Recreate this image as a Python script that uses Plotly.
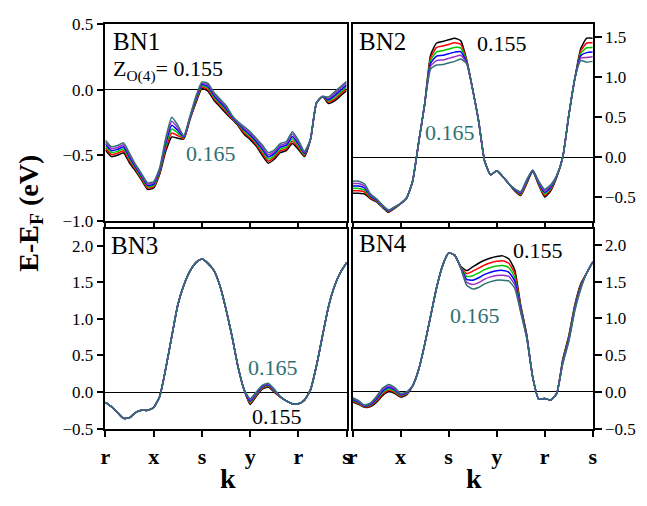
import plotly.graph_objects as go

# ---------------- data ----------------
k_path = [0.0, 0.125, 0.25, 0.375, 0.5, 0.625, 0.75, 0.875, 1.0, 1.125, 1.25, 1.375, 1.5,
          1.625, 1.75, 1.875, 2.0, 2.125, 2.25, 2.375, 2.5, 2.625, 2.75, 2.875, 3.0, 3.125,
          3.25, 3.375, 3.5, 3.625, 3.75, 3.875, 4.0, 4.125, 4.25, 4.375, 4.5, 4.625, 4.75,
          4.875, 5.0]
k_tick_pos = [0, 1, 2, 3, 4, 5]
k_tick_text = ["r", "x", "s", "y", "r", "s"]
z_values = ["0.155", "0.157", "0.159", "0.161", "0.163", "0.165"]

bn1_z155 = [-0.46, -0.51, -0.50, -0.48, -0.56, -0.62, -0.69, -0.76, -0.75, -0.645, -0.47, -0.36, -0.37, -0.375, -0.23, -0.10, 0.01, -0.01, -0.08, -0.13, -0.18, -0.225, -0.275, -0.34, -0.38, -0.43, -0.50, -0.56, -0.53, -0.48, -0.465, -0.41, -0.455, -0.51, -0.38, -0.10, -0.05, -0.105, -0.085, -0.045, -0.005]
bn1_z157 = [-0.445, -0.495, -0.485, -0.465, -0.545, -0.61, -0.68, -0.75, -0.74, -0.635, -0.45, -0.33, -0.35, -0.37, -0.225, -0.09, 0.02, 0.002, -0.068, -0.118, -0.168, -0.219, -0.269, -0.328, -0.368, -0.418, -0.484, -0.544, -0.516, -0.466, -0.451, -0.392, -0.441, -0.502, -0.38, -0.10, -0.05, -0.095, -0.071, -0.031, 0.009]
bn1_z159 = [-0.43, -0.48, -0.47, -0.45, -0.53, -0.60, -0.67, -0.74, -0.73, -0.625, -0.43, -0.30, -0.33, -0.365, -0.22, -0.08, 0.03, 0.014, -0.056, -0.106, -0.156, -0.213, -0.263, -0.316, -0.356, -0.406, -0.468, -0.528, -0.502, -0.452, -0.437, -0.374, -0.427, -0.494, -0.38, -0.10, -0.05, -0.085, -0.057, -0.017, 0.023]
bn1_z161 = [-0.415, -0.465, -0.455, -0.435, -0.515, -0.59, -0.66, -0.73, -0.72, -0.615, -0.41, -0.27, -0.31, -0.36, -0.215, -0.07, 0.04, 0.026, -0.044, -0.094, -0.144, -0.207, -0.257, -0.304, -0.344, -0.394, -0.452, -0.512, -0.488, -0.438, -0.423, -0.356, -0.413, -0.486, -0.38, -0.10, -0.05, -0.075, -0.043, -0.003, 0.037]
bn1_z163 = [-0.40, -0.45, -0.44, -0.42, -0.50, -0.58, -0.65, -0.72, -0.71, -0.605, -0.39, -0.24, -0.29, -0.355, -0.21, -0.06, 0.05, 0.038, -0.032, -0.082, -0.132, -0.201, -0.251, -0.292, -0.332, -0.382, -0.436, -0.496, -0.474, -0.424, -0.409, -0.338, -0.399, -0.478, -0.38, -0.10, -0.05, -0.065, -0.029, 0.011, 0.051]
bn1_z165 = [-0.385, -0.435, -0.425, -0.405, -0.485, -0.57, -0.64, -0.71, -0.70, -0.595, -0.37, -0.21, -0.27, -0.35, -0.205, -0.05, 0.06, 0.05, -0.02, -0.07, -0.12, -0.195, -0.245, -0.28, -0.32, -0.37, -0.42, -0.48, -0.46, -0.41, -0.395, -0.32, -0.385, -0.47, -0.38, -0.10, -0.05, -0.055, -0.015, 0.025, 0.065]

bn2_z155 = [-0.45, -0.45, -0.46, -0.52, -0.56, -0.63, -0.69, -0.64, -0.58, -0.51, -0.30, 0.18, 0.66, 1.28, 1.43, 1.45, 1.47, 1.49, 1.46, 1.22, 0.85, 0.45, -0.05, -0.22, -0.17, -0.24, -0.33, -0.42, -0.48, -0.33, -0.18, -0.35, -0.50, -0.42, -0.25, 0.0, 0.52, 0.98, 1.36, 1.49, 1.49]
bn2_z157 = [-0.42, -0.42, -0.435, -0.508, -0.552, -0.624, -0.684, -0.636, -0.58, -0.51, -0.30, 0.18, 0.66, 1.245, 1.375, 1.392, 1.412, 1.432, 1.414, 1.21, 0.85, 0.45, -0.05, -0.22, -0.17, -0.24, -0.33, -0.415, -0.47, -0.32, -0.176, -0.34, -0.48, -0.405, -0.245, 0.0, 0.52, 0.98, 1.33, 1.43, 1.432]
bn2_z159 = [-0.39, -0.39, -0.41, -0.496, -0.544, -0.618, -0.678, -0.632, -0.58, -0.51, -0.30, 0.18, 0.66, 1.21, 1.32, 1.334, 1.354, 1.374, 1.368, 1.20, 0.85, 0.45, -0.05, -0.22, -0.17, -0.24, -0.33, -0.41, -0.46, -0.31, -0.172, -0.33, -0.46, -0.39, -0.24, 0.0, 0.52, 0.98, 1.30, 1.37, 1.374]
bn2_z161 = [-0.36, -0.36, -0.385, -0.484, -0.536, -0.612, -0.672, -0.628, -0.58, -0.51, -0.30, 0.18, 0.66, 1.175, 1.265, 1.276, 1.296, 1.316, 1.322, 1.19, 0.85, 0.45, -0.05, -0.22, -0.17, -0.24, -0.33, -0.405, -0.45, -0.30, -0.168, -0.32, -0.44, -0.375, -0.235, 0.0, 0.52, 0.98, 1.27, 1.31, 1.316]
bn2_z163 = [-0.33, -0.33, -0.36, -0.472, -0.528, -0.606, -0.666, -0.624, -0.58, -0.51, -0.30, 0.18, 0.66, 1.14, 1.21, 1.218, 1.238, 1.258, 1.276, 1.18, 0.85, 0.45, -0.05, -0.22, -0.17, -0.24, -0.33, -0.40, -0.44, -0.29, -0.164, -0.31, -0.42, -0.36, -0.23, 0.0, 0.52, 0.98, 1.24, 1.25, 1.258]
bn2_z165 = [-0.30, -0.30, -0.335, -0.46, -0.52, -0.60, -0.66, -0.62, -0.58, -0.51, -0.30, 0.18, 0.66, 1.105, 1.155, 1.16, 1.18, 1.20, 1.23, 1.17, 0.85, 0.45, -0.05, -0.22, -0.17, -0.24, -0.33, -0.395, -0.43, -0.28, -0.16, -0.30, -0.40, -0.345, -0.225, 0.0, 0.52, 0.98, 1.21, 1.19, 1.20]

bn3_z155 = [-0.14, -0.20, -0.28, -0.36, -0.35, -0.28, -0.25, -0.25, -0.21, -0.06, 0.32, 0.76, 1.19, 1.46, 1.65, 1.77, 1.82, 1.76, 1.66, 1.45, 1.13, 0.76, 0.34, 0.03, -0.17, -0.06, 0.04, 0.07, 0.0, -0.07, -0.12, -0.16, -0.16, -0.11, 0.03, 0.36, 0.77, 1.17, 1.45, 1.64, 1.77]
bn3_z157 = [-0.14, -0.20, -0.28, -0.36, -0.35, -0.28, -0.25, -0.25, -0.21, -0.06, 0.32, 0.76, 1.19, 1.46, 1.65, 1.77, 1.82, 1.76, 1.66, 1.45, 1.13, 0.76, 0.34, 0.03, -0.154, -0.048, 0.05, 0.08, 0.008, -0.068, -0.12, -0.16, -0.16, -0.11, 0.03, 0.36, 0.77, 1.17, 1.45, 1.64, 1.77]
bn3_z159 = [-0.14, -0.20, -0.28, -0.36, -0.35, -0.28, -0.25, -0.25, -0.21, -0.06, 0.32, 0.76, 1.19, 1.46, 1.65, 1.77, 1.82, 1.76, 1.66, 1.45, 1.13, 0.76, 0.34, 0.03, -0.138, -0.036, 0.06, 0.09, 0.016, -0.066, -0.12, -0.16, -0.16, -0.11, 0.03, 0.36, 0.77, 1.17, 1.45, 1.64, 1.77]
bn3_z161 = [-0.14, -0.20, -0.28, -0.36, -0.35, -0.28, -0.25, -0.25, -0.21, -0.06, 0.32, 0.76, 1.19, 1.46, 1.65, 1.77, 1.82, 1.76, 1.66, 1.45, 1.13, 0.76, 0.34, 0.03, -0.122, -0.024, 0.07, 0.10, 0.024, -0.064, -0.12, -0.16, -0.16, -0.11, 0.03, 0.36, 0.77, 1.17, 1.45, 1.64, 1.77]
bn3_z163 = [-0.14, -0.20, -0.28, -0.36, -0.35, -0.28, -0.25, -0.25, -0.21, -0.06, 0.32, 0.76, 1.19, 1.46, 1.65, 1.77, 1.82, 1.76, 1.66, 1.45, 1.13, 0.76, 0.34, 0.03, -0.106, -0.012, 0.08, 0.11, 0.032, -0.062, -0.12, -0.16, -0.16, -0.11, 0.03, 0.36, 0.77, 1.17, 1.45, 1.64, 1.77]
bn3_z165 = [-0.14, -0.20, -0.28, -0.36, -0.35, -0.28, -0.25, -0.25, -0.21, -0.06, 0.32, 0.76, 1.19, 1.46, 1.65, 1.77, 1.82, 1.76, 1.66, 1.45, 1.13, 0.76, 0.34, 0.03, -0.09, 0.0, 0.09, 0.12, 0.04, -0.06, -0.12, -0.16, -0.16, -0.11, 0.03, 0.36, 0.77, 1.17, 1.45, 1.64, 1.77]

bn4_z155 = [-0.14, -0.17, -0.21, -0.20, -0.14, -0.05, 0.0, -0.02, -0.07, -0.04, 0.08, 0.30, 0.64, 1.03, 1.42, 1.72, 1.89, 1.86, 1.71, 1.65, 1.70, 1.75, 1.79, 1.82, 1.84, 1.85, 1.81, 1.66, 1.18, 0.78, 0.20, -0.10, -0.09, -0.11, -0.02, 0.44, 0.76, 1.18, 1.47, 1.62, 1.77]
bn4_z157 = [-0.128, -0.16, -0.204, -0.19, -0.124, -0.03, 0.02, -0.004, -0.06, -0.032, 0.08, 0.30, 0.64, 1.03, 1.42, 1.72, 1.89, 1.86, 1.705, 1.61, 1.64, 1.684, 1.726, 1.756, 1.776, 1.784, 1.75, 1.61, 1.16, 0.77, 0.20, -0.10, -0.09, -0.11, -0.02, 0.428, 0.744, 1.164, 1.456, 1.62, 1.77]
bn4_z159 = [-0.116, -0.15, -0.198, -0.18, -0.108, -0.01, 0.04, 0.012, -0.05, -0.024, 0.08, 0.30, 0.64, 1.03, 1.42, 1.72, 1.89, 1.86, 1.70, 1.57, 1.58, 1.618, 1.662, 1.692, 1.712, 1.718, 1.69, 1.56, 1.14, 0.76, 0.20, -0.10, -0.09, -0.11, -0.02, 0.416, 0.728, 1.148, 1.442, 1.62, 1.77]
bn4_z161 = [-0.104, -0.14, -0.192, -0.17, -0.092, 0.01, 0.06, 0.028, -0.04, -0.016, 0.08, 0.30, 0.64, 1.03, 1.42, 1.72, 1.89, 1.86, 1.695, 1.53, 1.52, 1.552, 1.598, 1.628, 1.648, 1.652, 1.63, 1.51, 1.12, 0.75, 0.20, -0.10, -0.09, -0.11, -0.02, 0.404, 0.712, 1.132, 1.428, 1.62, 1.77]
bn4_z163 = [-0.092, -0.13, -0.186, -0.16, -0.076, 0.03, 0.08, 0.044, -0.03, -0.008, 0.08, 0.30, 0.64, 1.03, 1.42, 1.72, 1.89, 1.86, 1.69, 1.49, 1.46, 1.486, 1.534, 1.564, 1.584, 1.586, 1.57, 1.46, 1.10, 0.74, 0.20, -0.10, -0.09, -0.11, -0.02, 0.392, 0.696, 1.116, 1.414, 1.62, 1.77]
bn4_z165 = [-0.08, -0.12, -0.18, -0.15, -0.06, 0.05, 0.10, 0.06, -0.02, 0.0, 0.08, 0.30, 0.64, 1.03, 1.42, 1.72, 1.89, 1.86, 1.685, 1.45, 1.40, 1.42, 1.47, 1.50, 1.52, 1.52, 1.51, 1.41, 1.08, 0.73, 0.20, -0.10, -0.09, -0.11, -0.02, 0.38, 0.68, 1.10, 1.40, 1.62, 1.77]

bn1_yticks = [-1.0, -0.5, 0.0, 0.5]
bn2_yticks = [-0.5, 0.0, 0.5, 1.0, 1.5]
bn3_yticks = [-0.5, 0.0, 0.5, 1.0, 1.5, 2.0]
bn4_yticks = [-0.5, 0.0, 0.5, 1.0, 1.5, 2.0]

# ---------------- styling ----------------
W, H = 647, 506
series_colors = ["#000000", "#ff0000", "#00c800", "#0000ff", "#9a2ccc", "#2f7272"]
teal = "#2f7272"
SERIF = "Liberation Serif"


def px(x):
    return x / W


def py(y):
    return 1 - y / H


fig = go.Figure()

panels = [
    ([bn1_z155, bn1_z157, bn1_z159, bn1_z161, bn1_z163, bn1_z165], "x", "y"),
    ([bn2_z155, bn2_z157, bn2_z159, bn2_z161, bn2_z163, bn2_z165], "x2", "y2"),
    ([bn3_z155, bn3_z157, bn3_z159, bn3_z161, bn3_z163, bn3_z165], "x3", "y3"),
    ([bn4_z155, bn4_z157, bn4_z159, bn4_z161, bn4_z163, bn4_z165], "x4", "y4"),
]
for series, xa, ya in panels:
    for z, vals, col in zip(z_values, series, series_colors):
        fig.add_trace(go.Scatter(
            x=k_path, y=vals, xaxis=xa, yaxis=ya, mode="lines", name=z,
            line=dict(color=col, width=1.5, shape="spline", smoothing=0.5),
            showlegend=False, hoverinfo="skip"))

left_dom = [px(102), px(347)]
right_dom = [px(353), px(597)]
top_dom = [py(220), py(16)]
bot_dom = [py(436), py(229)]

axis_common = dict(showline=True, linecolor="black", linewidth=1.5, mirror=True,
                   ticks="outside", ticklen=7, tickwidth=1.5, tickcolor="black",
                   showgrid=False)
xcommon = dict(axis_common, range=[0, 5], tickvals=k_tick_pos, zeroline=False)
tickfont_x = dict(family=SERIF, size=22, color="black", weight="bold")
tickfont_y = dict(family=SERIF, size=17, color="black")
ycommon = dict(axis_common, zeroline=True, zerolinecolor="black", zerolinewidth=1.2,
               tickformat=".1f", tickfont=tickfont_y)

fig.update_layout(
    width=W, height=H,
    margin=dict(l=0, r=0, t=0, b=0),
    paper_bgcolor="white", plot_bgcolor="white",
    xaxis=dict(xcommon, domain=left_dom, anchor="y", showticklabels=False),
    xaxis2=dict(xcommon, domain=right_dom, anchor="y2", showticklabels=False),
    xaxis3=dict(xcommon, domain=left_dom, anchor="y3", ticktext=k_tick_text, tickfont=tickfont_x),
    xaxis4=dict(xcommon, domain=right_dom, anchor="y4", ticktext=k_tick_text, tickfont=tickfont_x),
    yaxis=dict(ycommon, domain=top_dom, anchor="x", range=[-1.0, 0.5], tickvals=bn1_yticks),
    yaxis2=dict(ycommon, domain=top_dom, anchor="x2", range=[-0.795, 1.663], tickvals=bn2_yticks, side="right"),
    yaxis3=dict(ycommon, domain=bot_dom, anchor="x3", range=[-0.5, 2.224], tickvals=bn3_yticks),
    yaxis4=dict(ycommon, domain=bot_dom, anchor="x4", range=[-0.5, 2.21], tickvals=bn4_yticks, side="right"),
)


def note(text, x, y, size=22, color="black", xanchor="center", yanchor="middle", **kw):
    fig.add_annotation(text=text, x=px(x), y=py(y), xref="paper", yref="paper",
                       xanchor=xanchor, yanchor=yanchor, showarrow=False,
                       font=dict(family=SERIF, size=size, color=color), **kw)


note("BN1", 108, 34, size=25, xanchor="left")
note("Z<sub>O(4)</sub>= 0.155", 108, 64, size=22, xanchor="left")
note("0.165", 209, 150, color=teal)
note("BN2", 358, 34, size=25, xanchor="left")
note("0.155", 505, 36)
note("0.165", 452, 128, color=teal)
note("BN3", 106, 246, size=25, xanchor="left")
note("0.165", 272, 373, color=teal)
note("0.155", 276, 423)
note("BN4", 358, 244, size=25, xanchor="left")
note("0.155", 541, 251)
note("0.165", 477, 318, color=teal)

note("<b>E-E<sub>F</sub> (eV)</b>", 25, 212, size=28, textangle=-90)
note("<b>k</b>", 226, 506, size=28, yanchor="bottom")
note("<b>k</b>", 476, 506, size=28, yanchor="bottom")

fig.write_html("out.html",
               config={"displayModeBar": False},
               post_script="document.body.style.margin='0px';document.body.style.overflow='hidden';")
